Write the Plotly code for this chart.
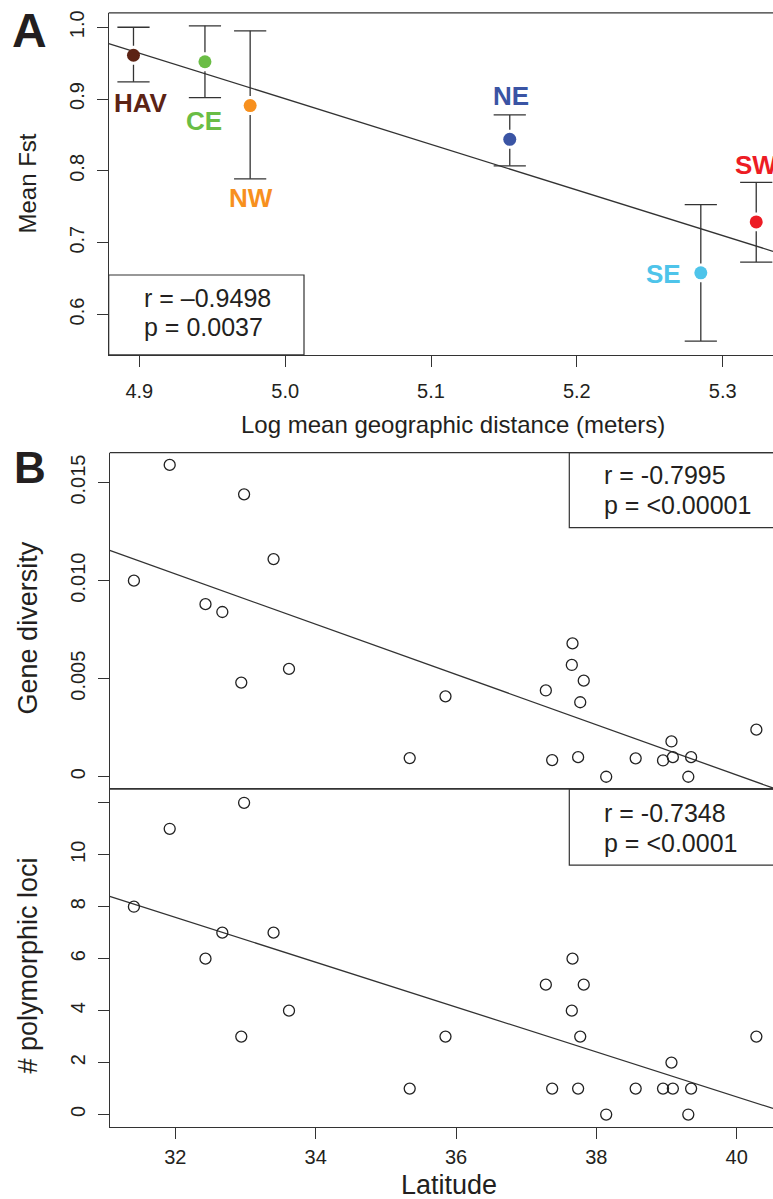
import numpy as np
import plotly.graph_objects as go

W, H = 773, 1199
FONT = "Liberation Sans, Arial, Helvetica, sans-serif"
INK = "#231f20"
LINE = "#333333"

# ---------------- Panel A data ----------------
regions = ["HAV", "CE", "NW", "NE", "SE", "SW"]
log_dist = [4.896, 4.945, 4.976, 5.154, 5.285, 5.323]
mean_fst = [0.961, 0.952, 0.891, 0.844, 0.658, 0.729]
fst_upper = [1.000, 1.002, 0.995, 0.878, 0.753, 0.784]
fst_lower = [0.924, 0.902, 0.789, 0.807, 0.563, 0.673]
region_colors = ["#5c2314", "#6abd45", "#f7901e", "#3a54a4", "#4ec4ea", "#ed1c24"]
stats_a = ["r = \u20130.9498", "p = 0.0037"]
xticks_a = [4.9, 5.0, 5.1, 5.2, 5.3]
yticks_a = [0.6, 0.7, 0.8, 0.9, 1.0]

# ---------------- Panel B data ----------------
latitude = [31.41, 31.92, 32.98, 33.40, 32.43, 32.67, 33.62, 32.94,
            35.34, 35.85, 37.66, 37.65, 37.82, 37.28, 37.77, 37.37,
            37.74, 38.14, 38.56, 38.95, 39.09, 39.07, 39.35, 39.31, 40.28]
gene_div = [0.0100, 0.0159, 0.0144, 0.0111, 0.0088, 0.0084, 0.0055, 0.0048,
            0.00095, 0.0041, 0.0068, 0.0057, 0.0049, 0.0044, 0.0038, 0.00085,
            0.0010, 0.0000, 0.00094, 0.00083, 0.0010, 0.0018, 0.0010, 0.0000, 0.0024]
poly_loci = [8, 11, 12, 7, 6, 7, 4, 3,
             1, 3, 6, 4, 5, 5, 3, 1,
             1, 0, 1, 1, 1, 2, 1, 0, 3]
stats_b1 = ["r = -0.7995", "p = <0.00001"]
stats_b2 = ["r = -0.7348", "p = <0.0001"]
xticks_b = [32, 34, 36, 38, 40]
yticks_b1 = [0, 0.005, 0.010, 0.015]
yticklabels_b1 = ["0", "0.005", "0.010", "0.015"]
yticks_b2 = [0, 2, 4, 6, 8, 10, 12]
yticklabels_b2 = ["0", "2", "4", "6", "8", "10", ""]

# ---------------- layout geometry (pixels) ----------------
def px(x):
    return x / W

def py(y):
    return 1 - y / H

A_left, A_top, A_bot = 108.7, 10.0, 352.7
B_left, B1_top, B1_bot, B2_top, B2_bot = 109.7, 450.7, 787.0, 788.0, 1126.7

xr_a = [4.879, 5.3345]
yr_a = [0.5439, 1.0199]
xr_b = [31.065, 40.517]
yr_b1 = [-0.000575, 0.01653]
yr_b2 = [-0.475, 12.53]

fig = go.Figure()

# ---- Panel A: regression line
k, b = np.polyfit(log_dist, mean_fst, 1)
xl = np.array(xr_a)
fig.add_trace(go.Scatter(x=xl, y=k * xl + b, mode="lines",
                         line=dict(color=LINE, width=1.3),
                         xaxis="x", yaxis="y", showlegend=False, hoverinfo="skip"))

# ---- Panel A: error bars with gap around points
ppu_a = (A_bot - A_top) / (yr_a[1] - yr_a[0])
gap = 9.5 / ppu_a
ex, ey = [], []
for xv, yv, up, lo in zip(log_dist, mean_fst, fst_upper, fst_lower):
    ex += [xv, xv, None, xv, xv, None]
    ey += [up, yv + gap, None, yv - gap, lo, None]
fig.add_trace(go.Scatter(x=ex, y=ey, mode="lines", line=dict(color=LINE, width=1.3),
                         xaxis="x", yaxis="y", showlegend=False, hoverinfo="skip"))
fig.add_trace(go.Scatter(x=log_dist + log_dist, y=fst_upper + fst_lower, mode="markers",
                         marker=dict(symbol="line-ew", size=23, color=LINE,
                                     line=dict(color=LINE, width=1.3)),
                         xaxis="x", yaxis="y", showlegend=False, hoverinfo="skip"))
fig.add_trace(go.Scatter(x=log_dist, y=mean_fst, mode="markers",
                         marker=dict(size=13, color=region_colors, line=dict(width=0)),
                         xaxis="x", yaxis="y", showlegend=False, cliponaxis=False))

# ---- Panel B upper
k1, b1 = np.polyfit(latitude, gene_div, 1)
xl = np.array(xr_b)
fig.add_trace(go.Scatter(x=xl, y=k1 * xl + b1, mode="lines",
                         line=dict(color=LINE, width=1.3),
                         xaxis="x2", yaxis="y2", showlegend=False, hoverinfo="skip"))
fig.add_trace(go.Scatter(x=latitude, y=gene_div, mode="markers",
                         marker=dict(symbol="circle-open", size=11, color="#222222",
                                     line=dict(color="#222222", width=1.3)),
                         xaxis="x2", yaxis="y2", showlegend=False))

# ---- Panel B lower
k2, b2 = np.polyfit(latitude, poly_loci, 1)
fig.add_trace(go.Scatter(x=xl, y=k2 * xl + b2, mode="lines",
                         line=dict(color=LINE, width=1.3),
                         xaxis="x3", yaxis="y3", showlegend=False, hoverinfo="skip"))
fig.add_trace(go.Scatter(x=latitude, y=poly_loci, mode="markers",
                         marker=dict(symbol="circle-open", size=11, color="#222222",
                                     line=dict(color="#222222", width=1.3)),
                         xaxis="x3", yaxis="y3", showlegend=False))

axis_common = dict(showgrid=False, zeroline=False, showline=True, linecolor=LINE,
                   linewidth=1.3, ticks="outside", ticklen=11, tickwidth=1.3,
                   tickcolor=LINE, tickfont=dict(family=FONT, size=20, color=INK))

fig.update_layout(
    width=W, height=H, margin=dict(l=0, r=0, t=0, b=0),
    paper_bgcolor="white", plot_bgcolor="white", showlegend=False,
    xaxis=dict(axis_common, domain=[px(A_left), 1], range=xr_a, anchor="y",
               tickvals=xticks_a, tickformat=".1f", ticklabelstandoff=7),
    yaxis=dict(axis_common, domain=[py(A_bot), py(A_top)], range=yr_a, anchor="x",
               tickvals=yticks_a, tickformat=".1f", tickangle=-90, ticklabelstandoff=5),
    xaxis2=dict(axis_common, domain=[px(B_left), 1], range=xr_b, anchor="y2",
                ticks="", showticklabels=False),
    yaxis2=dict(axis_common, domain=[py(B1_bot), py(B1_top)], range=yr_b1, anchor="x2",
                tickvals=yticks_b1, ticktext=yticklabels_b1, tickangle=-90,
                ticklabelstandoff=5),
    xaxis3=dict(axis_common, domain=[px(B_left), 1], range=xr_b, anchor="y3",
                tickvals=xticks_b, ticklabelstandoff=1),
    yaxis3=dict(axis_common, domain=[py(B2_bot), py(B2_top)], range=yr_b2, anchor="x3",
                tickvals=yticks_b2, ticktext=yticklabels_b2, tickangle=-90,
                ticklabelstandoff=5),
)

shapes = []
# top borders of the panels
for left, top in [(A_left, A_top), (B_left, B1_top), (B_left, B2_top)]:
    shapes.append(dict(type="line", xref="paper", yref="paper", x0=px(left), x1=1.01,
                       y0=py(top), y1=py(top), line=dict(color=LINE, width=1.3)))
# stats boxes
shapes.append(dict(type="rect", xref="paper", yref="paper", x0=px(A_left), x1=px(304),
                   y0=py(A_bot), y1=py(272.7), line=dict(color=LINE, width=1.2)))
shapes.append(dict(type="rect", xref="paper", yref="paper", x0=px(569.3), x1=1.05,
                   y0=py(526), y1=py(B1_top), line=dict(color=LINE, width=1.2)))
shapes.append(dict(type="rect", xref="paper", yref="paper", x0=px(569.3), x1=1.05,
                   y0=py(864.3), y1=py(B2_top), line=dict(color=LINE, width=1.2)))
fig.update_layout(shapes=shapes)

ann = []
def text(x, y, s, size, bold=False, color=INK, angle=0, xanchor="center"):
    ann.append(dict(x=px(x), y=py(y), xref="paper", yref="paper", text=s,
                    showarrow=False, textangle=angle, xanchor=xanchor, yanchor="middle",
                    font=dict(family=FONT, size=size, color=color)))
    if bold:
        ann[-1]["text"] = "<b>" + s + "</b>"

# panel letters
text(29.5, 28, "A", 48, bold=True)
text(30, 466, "B", 44, bold=True)

# axis titles
text(28, 181, "Mean Fst", 24, angle=-90)
text(453, 423, "Log mean geographic distance (meters)", 24)
text(28, 627, "Gene diversity", 27, angle=-90)
text(28, 965, "# polymorphic loci", 27, angle=-90)
text(449, 1185, "Latitude", 27)

# stats text
text(142, 296, stats_a[0], 25, xanchor="left")
text(142, 325, stats_a[1], 25, xanchor="left")
text(602, 473, stats_b1[0], 25, xanchor="left")
text(602, 503, stats_b1[1], 25, xanchor="left")
text(602, 812, stats_b2[0], 25, xanchor="left")
text(602, 842, stats_b2[1], 25, xanchor="left")

# region labels (offsets from points, in px)
label_shift = {"HAV": (8, -48), "CE": (-1, -59), "NW": (1, -92),
               "NE": (1, 43), "SE": (-37, -1), "SW": (0, 57)}
for name, xv, yv, col in zip(regions, log_dist, mean_fst, region_colors):
    dx, dy = label_shift[name]
    ann.append(dict(x=xv, y=yv, xref="x", yref="y", text="<b>" + name + "</b>",
                    showarrow=False, xshift=dx, yshift=dy, xanchor="center",
                    yanchor="middle", font=dict(family=FONT, size=26, color=col)))

fig.update_layout(annotations=ann)
fig.write_html("out.html", config={"displayModeBar": False},
               post_script="document.body.style.margin='0';document.body.style.overflow='hidden';")
